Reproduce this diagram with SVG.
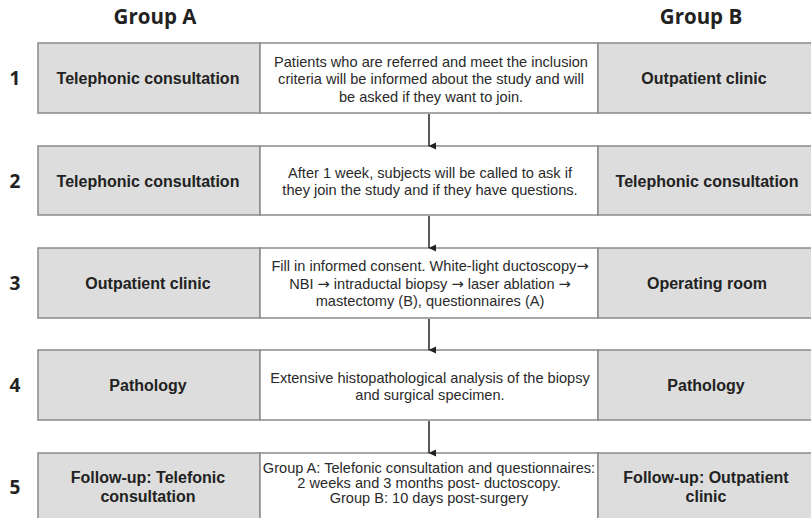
<svg xmlns="http://www.w3.org/2000/svg" width="811" height="518" viewBox="0 0 811 518">
<defs>
<marker id="ah" markerWidth="8" markerHeight="8" refX="4" refY="7" orient="auto" markerUnits="userSpaceOnUse">
<path d="M0.5,0 L7.5,0 L4,7.5 Z" fill="#222"/>
</marker>
<style>
.g{fill:#dcdddc;stroke:#8a8a8a;stroke-width:1.5}
.w{fill:#fff;stroke:#8a8a8a;stroke-width:1.5}
.h{font-family:"Open Sans","DejaVu Sans",sans-serif;font-weight:bold;font-size:20.5px;fill:#222;text-anchor:middle}
.n{font-family:"Open Sans","DejaVu Sans",sans-serif;font-weight:bold;font-size:19px;fill:#222;text-anchor:middle}
.b{font-family:"Liberation Sans",Arial,sans-serif;font-weight:bold;font-size:16px;fill:#222;text-anchor:middle}
.t{font-family:"Liberation Sans",Arial,sans-serif;font-size:14.6px;fill:#2a2a2a;text-anchor:middle}
.a{font-family:"DejaVu Sans",sans-serif}
.c{stroke:#222;stroke-width:1.5;fill:none}
</style>
</defs>
<text class="h" x="155" y="24">Group A</text>
<text class="h" x="701" y="24">Group B</text>

<g id="row1">
<rect class="g" x="38" y="43" width="222" height="70"/>
<rect class="w" x="260" y="43" width="338" height="70"/>
<rect class="g" x="598" y="43" width="215" height="70"/>
<text class="n" x="15" y="85">1</text>
<text class="b" x="148" y="84">Telephonic consultation</text>
<text class="t" x="431" y="67">Patients who are referred and meet the inclusion</text>
<text class="t" x="431" y="84">criteria will be informed about the study and will</text>
<text class="t" x="431" y="102">be asked if they want to join.</text>
<text class="b" x="704" y="84">Outpatient clinic</text>
</g>

<g id="row2">
<rect class="g" x="38" y="146" width="222" height="69"/>
<rect class="w" x="260" y="146" width="338" height="69"/>
<rect class="g" x="598" y="146" width="215" height="69"/>
<text class="n" x="15" y="188">2</text>
<text class="b" x="148" y="187">Telephonic consultation</text>
<text class="t" x="430" y="178">After 1 week, subjects will be called to ask if</text>
<text class="t" x="430" y="195">they join the study and if they have questions.</text>
<text class="b" x="707" y="187">Telephonic consultation</text>
</g>

<g id="row3">
<rect class="g" x="38" y="248" width="222" height="70"/>
<rect class="w" x="260" y="248" width="338" height="70"/>
<rect class="g" x="598" y="248" width="215" height="70"/>
<text class="n" x="15" y="290">3</text>
<text class="b" x="148" y="289">Outpatient clinic</text>
<text class="t" x="430" y="271">Fill in informed consent. White-light ductoscopy<tspan class="a">→</tspan></text>
<text class="t" x="430" y="289">NBI <tspan class="a">→</tspan> intraductal biopsy <tspan class="a">→</tspan> laser ablation <tspan class="a">→</tspan></text>
<text class="t" x="430" y="306">mastectomy (B), questionnaires (A)</text>
<text class="b" x="707" y="289">Operating room</text>
</g>

<g id="row4">
<rect class="g" x="38" y="350" width="222" height="70"/>
<rect class="w" x="260" y="350" width="338" height="70"/>
<rect class="g" x="598" y="350" width="215" height="70"/>
<text class="n" x="15" y="392">4</text>
<text class="b" x="148" y="391">Pathology</text>
<text class="t" x="430" y="383">Extensive histopathological analysis of the biopsy</text>
<text class="t" x="430" y="400">and surgical specimen.</text>
<text class="b" x="706" y="391">Pathology</text>
</g>

<g id="row5">
<rect class="g" x="38" y="453" width="222" height="70"/>
<rect class="w" x="260" y="453" width="338" height="70"/>
<rect class="g" x="598" y="453" width="215" height="70"/>
<text class="n" x="15" y="494">5</text>
<text class="b" x="148" y="483">Follow-up: Telefonic</text>
<text class="b" x="148" y="502">consultation</text>
<text class="t" x="429" y="473">Group A: Telefonic consultation and questionnaires:</text>
<text class="t" x="429" y="488">2 weeks and 3 months post- ductoscopy.</text>
<text class="t" x="429" y="503">Group B: 10 days post-surgery</text>
<text class="b" x="706" y="483">Follow-up: Outpatient</text>
<text class="b" x="706" y="502">clinic</text>
</g>

<g id="connectors">
<line class="c" x1="429" y1="114" x2="429" y2="146" marker-end="url(#ah)"/>
<line class="c" x1="429" y1="216" x2="429" y2="248" marker-end="url(#ah)"/>
<line class="c" x1="429" y1="319" x2="429" y2="350" marker-end="url(#ah)"/>
<line class="c" x1="429" y1="421" x2="429" y2="453" marker-end="url(#ah)"/>
</g>
</svg>
